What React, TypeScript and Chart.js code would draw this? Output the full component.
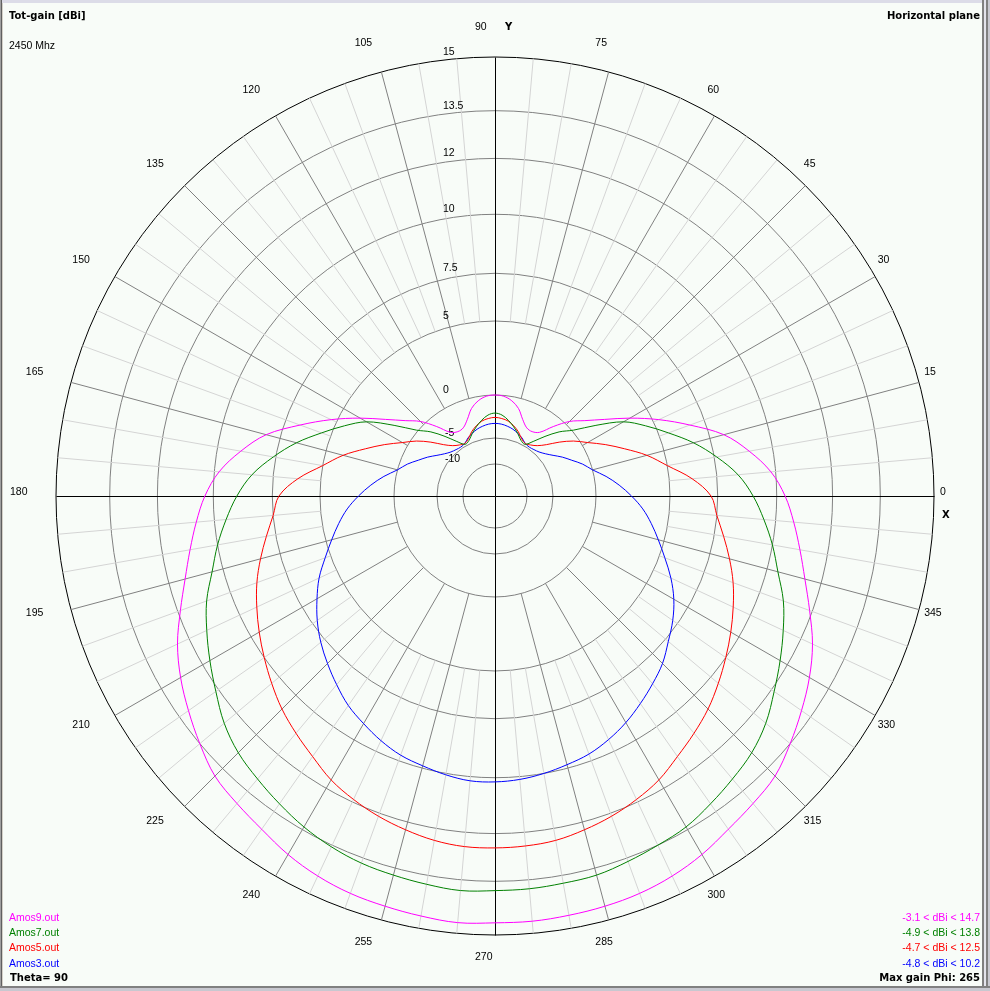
import React, { useEffect, useRef } from 'react';
import { Chart, registerables } from 'chart.js';

Chart.register(...registerables);

// ---------------- data ----------------
const phiDeg = [
  0, 5, 10, 15, 20, 25, 30, 35, 40, 45, 50, 55, 60, 65, 70, 75, 80, 85,
  90, 95, 100, 105, 110, 115, 120, 125, 130, 135, 140, 145, 150, 155, 160, 165, 170, 175,
  180, 185, 190, 195, 200, 205, 210, 215, 220, 225, 230, 235, 240, 245, 250, 255, 260, 265,
  270, 275, 280, 285, 290, 295, 300, 305, 310, 315, 320, 325, 330, 335, 340, 345, 350, 355,
];

const amos9Gain = [
  10.3, 9.8, 9.0, 8.1, 6.7, 5.3, 3.7, 2.2, 1.1, 0.3, -1.2, -2.7, -3.1, -3.0, -2.3, -1.2, -0.5, -0.1,
  0.0, -0.1, -0.5, -1.2, -2.3, -3.0, -3.1, -2.7, -1.2, 0.3, 1.1, 2.2, 3.7, 5.3, 6.7, 8.1, 9.0, 9.8,
  10.3, 10.65, 11.0, 11.4, 11.9, 12.4, 12.8, 13.15, 13.5, 13.8, 13.95, 14.1, 14.3, 14.45, 14.55, 14.6, 14.65, 14.7,
  14.66, 14.66, 14.63, 14.6, 14.55, 14.45, 14.3, 14.1, 13.95, 13.8, 13.5, 13.15, 12.8, 12.4, 11.9, 11.4, 11.0, 10.65,
];

const amos7Gain = [
  9.0, 8.4, 7.6, 6.6, 5.5, 4.4, 3.2, 1.5, 0.1, -1.2, -2.7, -4.0, -4.8, -4.6, -4.0, -3.4, -2.8, -2.3,
  -2.1, -2.3, -2.8, -3.4, -4.0, -4.6, -4.8, -4.0, -2.7, -1.2, 0.1, 1.5, 3.2, 4.4, 5.5, 6.6, 7.6, 8.4,
  9.0, 9.5, 10.0, 10.4, 10.9, 11.3, 11.7, 12.1, 12.5, 12.8, 13.0, 13.2, 13.4, 13.55, 13.65, 13.7, 13.75, 13.8,
  13.76, 13.75, 13.72, 13.7, 13.6, 13.5, 13.4, 13.2, 13.0, 12.8, 12.5, 12.1, 11.7, 11.3, 10.9, 10.4, 10.0, 9.5,
];

const amos5Gain = [
  7.15, 6.2, 5.0, 3.8, 2.5, 1.4, 0.4, -0.6, -2.0, -3.3, -4.1, -4.5, -4.7, -4.4, -3.8, -3.3, -2.9, -2.7,
  -2.6, -2.7, -2.9, -3.3, -3.8, -4.4, -4.7, -4.5, -4.1, -3.3, -2.0, -0.6, 0.4, 1.4, 2.5, 3.8, 5.0, 6.2,
  7.15, 7.5, 7.9, 8.35, 8.8, 9.2, 9.6, 10.0, 10.35, 10.7, 11.0, 11.3, 11.65, 11.9, 12.1, 12.25, 12.38, 12.45,
  12.45, 12.43, 12.38, 12.25, 12.1, 11.9, 11.65, 11.3, 11.0, 10.7, 10.35, 10.0, 9.6, 9.2, 8.8, 8.35, 7.9, 7.5,
];

const amos3Gain = [
  2.4, 1.6, 0.8, 0.0, -0.9, -1.9, -2.7, -3.5, -4.1, -4.5, -4.7, -4.8, -4.7, -4.3, -4.0, -3.7, -3.5, -3.35,
  -3.3, -3.35, -3.5, -3.7, -4.0, -4.3, -4.7, -4.8, -4.7, -4.5, -4.1, -3.5, -2.7, -1.9, -0.9, 0.0, 0.8, 1.6,
  2.4, 3.2, 3.9, 4.6, 5.3, 6.0, 6.6, 7.2, 7.7, 8.1, 8.5, 8.9, 9.2, 9.5, 9.75, 9.9, 10.05, 10.15,
  10.15, 10.1, 10.0, 9.85, 9.7, 9.45, 9.15, 8.8, 8.45, 8.1, 7.65, 7.2, 6.65, 6.0, 5.3, 4.6, 3.9, 3.2,
];

const seriesNames = ['Amos9.out', 'Amos7.out', 'Amos5.out', 'Amos3.out'];
const seriesRanges = ['-3.1 < dBi < 14.7', '-4.9 < dBi < 13.8', '-4.7 < dBi < 12.5', '-4.8 < dBi < 10.2'];
const seriesColors = ['#ff00ff', '#008000', '#ff0000', '#0000ff'];

// radial (dBi) rings and the fraction of the outer radius at which each ring sits
const ringDb = [-10, -5, 0, 5, 7.5, 10, 12, 13.5, 15];
const ringFraction = [0.0729, 0.1321, 0.23, 0.3986, 0.5073, 0.6417, 0.769, 0.8777, 1];

const angleTickDeg = [0, 15, 30, 45, 60, 75, 90, 105, 120, 135, 150, 165, 180, 195, 210, 225, 240, 255, 270, 285, 300, 315, 330, 345];

// ---------------- helpers ----------------
function dbToFrac(db: number): number {
  if (db <= ringDb[0]) {
    const slope = (ringFraction[1] - ringFraction[0]) / (ringDb[1] - ringDb[0]);
    return Math.max(0, ringFraction[0] + (db - ringDb[0]) * slope);
  }
  for (let i = 1; i < ringDb.length; i++) {
    if (db <= ringDb[i]) {
      const t = (db - ringDb[i - 1]) / (ringDb[i] - ringDb[i - 1]);
      return ringFraction[i - 1] + t * (ringFraction[i] - ringFraction[i - 1]);
    }
  }
  return 1;
}

// radar index i sits i*5 deg clockwise from 3 o'clock => phi = 360 - 5i
const radarPhi = phiDeg.map((_, i) => (360 - i * 5) % 360);
const radarLabels = radarPhi.map((p) => String(p));

function toRadar(gain: number[]): number[] {
  return radarPhi.map((p) => dbToFrac(gain[phiDeg.indexOf(p)]));
}

const NORMAL_FONT = '10.5px "Liberation Sans", Arial, sans-serif';
const BOLD_FONT = 'bold 10px "DejaVu Sans", sans-serif';

const polarDecor = {
  id: 'polarDecor',
  beforeDatasetsDraw(chart: any) {
    const scale = chart.scales.r;
    const ctx = chart.ctx as CanvasRenderingContext2D;
    const cx = scale.xCenter;
    const cy = scale.yCenter;
    const rOuter = scale.drawingArea;
    const r0 = scale.getDistanceFromCenterForValue(dbToFrac(0));
    const r5 = scale.getDistanceFromCenterForValue(dbToFrac(5));
    ctx.save();
    ctx.lineWidth = 1;
    const styles = ['#d4d4d4', '#808080', '#000000'];
    for (let pass = 0; pass < 3; pass++) {
      ctx.strokeStyle = styles[pass];
      for (let i = 0; i < radarPhi.length; i++) {
        const phi = radarPhi[i];
        const kind = phi % 90 === 0 ? 2 : phi % 15 === 0 ? 1 : 0;
        if (kind !== pass) continue;
        const inner = kind === 2 ? 0 : kind === 1 ? r0 : r5;
        const a = scale.getPointPosition(i, inner);
        const b = scale.getPointPosition(i, rOuter);
        ctx.beginPath();
        if (kind === 2) {
          ctx.moveTo(Math.round(a.x) + 0.5, Math.round(a.y) + 0.5);
          ctx.lineTo(Math.round(b.x) + 0.5, Math.round(b.y) + 0.5);
        } else {
          ctx.moveTo(a.x, a.y);
          ctx.lineTo(b.x, b.y);
        }
        ctx.stroke();
      }
    }
    // ring labels
    ctx.fillStyle = '#000';
    ctx.font = NORMAL_FONT;
    ctx.textAlign = 'left';
    ctx.textBaseline = 'middle';
    ringDb.forEach((db, k) => {
      const r = scale.getDistanceFromCenterForValue(ringFraction[k]);
      const dx = db < 0 ? -50 : -52;
      ctx.fillText(String(db), cx + dx, cy - r - 5);
    });
    // angle labels
    const rl = rOuter * 1.0592;
    angleTickDeg.forEach((deg) => {
      const a = (deg * Math.PI) / 180;
      ctx.fillText(String(deg), cx - 20 + rl * Math.cos(a), cy - 3.5 - rl * Math.sin(a));
    });
    ctx.font = BOLD_FONT;
    ctx.fillText('X', cx + 447, cy + 19);
    ctx.fillText('Y', cx + 10, cy - 469);
    ctx.restore();
  },
};

export default function App() {
  const canvasRef = useRef<HTMLCanvasElement | null>(null);

  useEffect(() => {
    document.body.style.margin = '0';
    document.body.style.overflow = 'hidden';
    const canvas = canvasRef.current;
    if (!canvas) return;
    const gains = [amos9Gain, amos7Gain, amos5Gain, amos3Gain];
    const chart = new Chart(canvas, {
      type: 'radar',
      data: {
        labels: radarLabels,
        datasets: gains.map((g, k) => ({
          label: seriesNames[k],
          data: toRadar(g),
          borderColor: seriesColors[k],
          backgroundColor: 'transparent',
          borderWidth: 1,
          fill: false,
          pointRadius: 0,
          pointHoverRadius: 0,
          tension: 0.35,
        })),
      },
      options: {
        animation: false,
        responsive: true,
        maintainAspectRatio: false,
        layout: { padding: { left: 56, right: 56, top: 57, bottom: 56 } },
        plugins: {
          legend: { display: false },
          tooltip: { enabled: false },
        },
        scales: {
          r: {
            min: 0,
            max: 1,
            startAngle: 90,
            angleLines: { display: false },
            pointLabels: { display: false },
            ticks: { display: false },
            grid: {
              circular: true,
              lineWidth: 1,
              color: (c: any) => (c.tick && c.tick.value >= 0.999 ? '#000000' : '#808080'),
            },
            afterBuildTicks: (s: any) => {
              s.ticks = [{ value: 0 }, ...ringFraction.map((v) => ({ value: v }))];
            },
          },
        },
      } as any,
      plugins: [polarDecor],
    });
    return () => chart.destroy();
  }, []);

  const normal: React.CSSProperties = {
    position: 'absolute',
    font: NORMAL_FONT,
    lineHeight: '12px',
    whiteSpace: 'nowrap',
  };
  const bold: React.CSSProperties = {
    position: 'absolute',
    font: BOLD_FONT,
    lineHeight: '12px',
    whiteSpace: 'nowrap',
    color: '#000',
  };
  const rowY = [911, 926, 941, 957];

  return (
    <div style={{ position: 'relative', width: 990, height: 991, background: '#f8fcf8', overflow: 'hidden' }}>
      <canvas ref={canvasRef} style={{ position: 'absolute', left: 0, top: 0 }} />
      <div style={{ position: 'absolute', inset: 0, pointerEvents: 'none' }}>
        <div style={{ ...bold, left: 9, top: 10 }}>Tot-gain [dBi]</div>
        <div style={{ ...normal, left: 9, top: 39, color: '#000' }}>2450 Mhz</div>
        <div style={{ ...bold, right: 10, top: 10 }}>Horizontal plane</div>
        {seriesNames.map((n, k) => (
          <div key={n} style={{ ...normal, left: 9, top: rowY[k], color: seriesColors[k] }}>{n}</div>
        ))}
        {seriesRanges.map((n, k) => (
          <div key={n} style={{ ...normal, right: 10, top: rowY[k], color: seriesColors[k] }}>{n}</div>
        ))}
        <div style={{ ...bold, left: 10, top: 972 }}>Theta= 90</div>
        <div style={{ ...bold, right: 10, top: 972 }}>Max gain Phi: 265</div>
      </div>
      {/* window frame */}
      <div style={{ position: 'absolute', left: 0, top: 0, width: 990, height: 3, background: '#dcdce8' }} />
      <div style={{ position: 'absolute', left: 0, top: 0, width: 1, height: 991, background: '#a0a0a0' }} />
      <div style={{ position: 'absolute', left: 1, top: 0, width: 1, height: 991, background: '#606060' }} />
      <div style={{ position: 'absolute', left: 2, top: 3, width: 1, height: 985, background: '#d4d0c8' }} />
      <div style={{ position: 'absolute', left: 982, top: 0, width: 2, height: 991, background: '#808080' }} />
      <div style={{ position: 'absolute', left: 984, top: 0, width: 2, height: 991, background: '#e4e4ec' }} />
      <div style={{ position: 'absolute', left: 986, top: 0, width: 2, height: 991, background: '#808080' }} />
      <div style={{ position: 'absolute', left: 988, top: 0, width: 2, height: 991, background: '#c8c8d0' }} />
      <div style={{ position: 'absolute', left: 0, top: 986, width: 990, height: 2, background: '#808080' }} />
      <div style={{ position: 'absolute', left: 0, top: 988, width: 990, height: 3, background: '#c8c8d0' }} />
    </div>
  );
}
